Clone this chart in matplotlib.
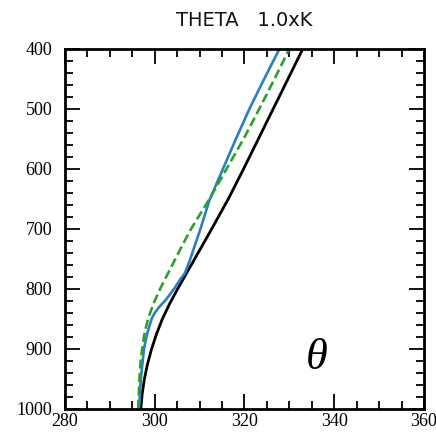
import numpy as np
import matplotlib
matplotlib.use('Agg')
import matplotlib.pyplot as plt
from matplotlib.ticker import MultipleLocator

# pressure levels (hPa) and potential temperature (K)
p_black = [1000, 975, 950, 925, 900, 875, 850, 825, 800, 775, 750, 700, 650, 600, 550, 500, 450, 400]
th_black = [296.9, 297.2, 297.7, 298.4, 299.3, 300.4, 301.7, 303.3, 305.1, 307.0, 308.9, 312.7, 316.4, 319.8, 323.1, 326.4, 329.7, 333.0]

p_blue = [1000, 950, 900, 875, 850, 840, 830, 818, 800, 785, 774, 755, 735, 702, 652, 600, 550, 500, 450, 400]
th_blue = [296.5, 296.9, 297.6, 298.3, 299.3, 300.0, 301.0, 302.5, 304.3, 305.6, 306.7, 307.7, 308.6, 310.1, 312.2, 315.2, 318.1, 321.1, 324.4, 327.8]

p_green = [1000, 950, 925, 900, 875, 850, 825, 800, 775, 750, 725, 700, 650, 600, 550, 500, 450, 400]
th_green = [296.3, 296.6, 296.8, 297.2, 297.7, 298.5, 299.7, 301.2, 302.9, 304.6, 306.3, 308.1, 312.2, 316.0, 319.8, 323.3, 326.7, 330.0]

title = 'THETA   1.0xK'

fig = plt.figure(figsize=(4.36, 4.36), dpi=100)
ax = fig.add_axes([0.149, 0.062, 0.8235, 0.826])

ax.plot(th_black, p_black, color='black', lw=2.0)
ax.plot(th_blue, p_blue, color='#2a7fc0', lw=1.9)
ax.plot(th_green, p_green, color='#2ca02c', lw=1.9, ls=(0, (3.5, 1.6)))

ax.set_xlim(280, 360)
ax.set_ylim(1000, 400)
ax.xaxis.set_major_locator(MultipleLocator(20))
ax.xaxis.set_minor_locator(MultipleLocator(5))
ax.yaxis.set_major_locator(MultipleLocator(100))
ax.yaxis.set_minor_locator(MultipleLocator(20))

ax.tick_params(which='both', direction='in', top=True, right=True, width=1.3, color='black')
ax.tick_params(which='major', length=11, labelsize=13)
ax.tick_params(axis='y', which='major', pad=9)
ax.tick_params(axis='x', which='major', pad=3)
ax.tick_params(which='minor', length=6)
for lab in ax.get_xticklabels() + ax.get_yticklabels():
    lab.set_family('Liberation Serif')
for s in ax.spines.values():
    s.set_linewidth(2.0)

ax.text(0.5, 1.08, title, transform=ax.transAxes, ha='center', va='center',
        fontsize=14, family='DejaVu Sans', color='#111111')
ax.text(0.702, 0.085, 'θ', transform=ax.transAxes, ha='center', va='bottom',
        fontsize=32, family='Liberation Serif', style='italic')

plt.savefig('out.png', dpi=100)
